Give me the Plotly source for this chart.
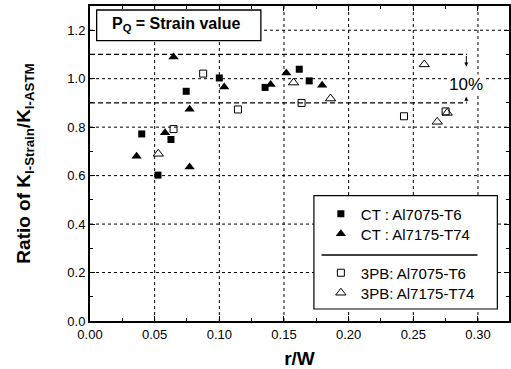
import plotly.graph_objects as go

# r/W and K ratio for each specimen group
ct_7075_x = [0.040, 0.0626, 0.0526, 0.0744, 0.100, 0.1354, 0.1618, 0.1695]
ct_7075_y = [0.772, 0.749, 0.602, 0.948, 1.003, 0.964, 1.039, 0.991]

ct_7175_x = [0.036, 0.058, 0.077, 0.0646, 0.077, 0.1038, 0.1397, 0.1518, 0.1795]
ct_7175_y = [0.680, 0.777, 0.636, 1.090, 0.874, 0.966, 0.976, 1.024, 0.973]

pb_7075_x = [0.0646, 0.0875, 0.1144, 0.1636, 0.2428, 0.2750]
pb_7075_y = [0.792, 1.021, 0.873, 0.900, 0.845, 0.865]

pb_7175_x = [0.0528, 0.1574, 0.1860, 0.2585, 0.2685, 0.2762]
pb_7175_y = [0.690, 0.984, 0.918, 1.059, 0.822, 0.859]

# +/-10 % band around unity
band_upper = 1.1
band_lower = 0.9
band_end = 0.2915

x_ticks = [0.00, 0.05, 0.10, 0.15, 0.20, 0.25, 0.30]
y_ticks = [0.0, 0.2, 0.4, 0.6, 0.8, 1.0, 1.2]
x_max = 0.324
y_max = 1.3

FONT = "Liberation Sans"

fig = go.Figure()

series = [
    ("CT : Al7075-T6", ct_7075_x, ct_7075_y, dict(symbol="square", size=7, color="black"), "legend"),
    ("CT : Al7175-T74", ct_7175_x, ct_7175_y, dict(symbol="triangle-up", size=9, color="black"), "legend2"),
    ("3PB: Al7075-T6", pb_7075_x, pb_7075_y,
     dict(symbol="square-open", size=7, color="black", line=dict(width=1)), "legend3"),
    ("3PB: Al7175-T74", pb_7175_x, pb_7175_y,
     dict(symbol="triangle-up-open", size=9, color="black", line=dict(width=1)), "legend4"),
]
for name, xs, ys, mk, lg in series:
    fig.add_trace(go.Scatter(x=xs, y=ys, mode="markers", name=name, marker=mk, legend=lg))

shapes = []
# dotted grid at the major ticks
for xv in x_ticks[1:]:
    shapes.append(dict(type="line", xref="x", yref="y", x0=xv, x1=xv, y0=0, y1=y_max,
                       line=dict(color="black", width=1, dash="3px,3px"), layer="below"))
for yv in y_ticks[1:]:
    shapes.append(dict(type="line", xref="x", yref="y", x0=0, x1=x_max, y0=yv, y1=yv,
                       line=dict(color="black", width=1, dash="3px,3px"), layer="below"))
for yv in (band_upper, band_lower):
    shapes.append(dict(type="line", xref="x", yref="y", x0=0, x1=band_end, y0=yv, y1=yv,
                       line=dict(color="black", width=1.3, dash="5px,3px"), layer="below"))
# P_Q box
shapes.append(dict(type="rect", xref="paper", yref="paper", x0=0.0159, x1=0.4078,
                   y0=0.8898, y1=0.9873, line=dict(color="black", width=1.3),
                   fillcolor="white", layer="above"))
# legend frame and separator
shapes.append(dict(type="rect", xref="paper", yref="paper", x0=0.5344, x1=0.9722,
                   y0=0.0381, y1=0.3978, line=dict(color="black", width=1.2),
                   fillcolor="white", layer="above"))
shapes.append(dict(type="line", xref="paper", yref="paper", x0=0.5527, x1=0.9247,
                   y0=0.2095, y1=0.2095, line=dict(color="black", width=1.5),
                   layer="above"))

annotations = [
    dict(xref="paper", yref="paper", x=0.0475, y=0.9397, xanchor="left", yanchor="middle",
         showarrow=False, text="<b>P<sub>Q</sub> = Strain value</b>",
         font=dict(family=FONT, size=16, color="black")),
    dict(xref="x", yref="y", x=0.2905, y=0.975, showarrow=False, text="10%",
         font=dict(family=FONT, size=17, color="black"), bgcolor="white", borderpad=0),
    dict(xref="x", yref="y", axref="x", ayref="y", x=0.291, y=1.05, ax=0.291, ay=band_upper,
         text="", showarrow=True, arrowhead=2, arrowsize=0.8, arrowwidth=1, arrowcolor="black"),
    dict(xref="x", yref="y", axref="x", ayref="y", x=0.291, y=0.925, ax=0.291, ay=band_lower,
         text="", showarrow=True, arrowhead=2, arrowsize=0.8, arrowwidth=1, arrowcolor="black"),
]

axis_common = dict(
    showline=True, linecolor="black", linewidth=2, mirror="ticks",
    ticks="inside", ticklen=5, tickwidth=1.3, tickcolor="black",
    showgrid=False, zeroline=False,
    tickfont=dict(family=FONT, size=13, color="black"),
)


def legend_box(ypos):
    return dict(x=0.551, y=ypos, xanchor="left", yanchor="middle",
                bgcolor="rgba(0,0,0,0)", font=dict(family=FONT, size=15, color="black"),
                itemwidth=30)


fig.update_layout(
    width=511, height=369,
    margin=dict(l=90, r=0, t=6, b=48),
    paper_bgcolor="white", plot_bgcolor="white",
    showlegend=True,
    shapes=shapes, annotations=annotations,
    legend=legend_box(0.3397),
    legend2=legend_box(0.2762),
    legend3=legend_box(0.1524),
    legend4=legend_box(0.0889),
    xaxis=dict(axis_common, range=[0, x_max], tickvals=x_ticks,
               ticktext=[f"{v:.2f}" for v in x_ticks],
               minor=dict(ticks="inside", ticklen=3, tickcolor="black", dtick=0.025,
                          tick0=0, showgrid=False),
               title=dict(text="<b>r/W</b>", standoff=13,
                          font=dict(family=FONT, size=19, color="black"))),
    yaxis=dict(axis_common, range=[0, y_max], tickvals=y_ticks,
               ticktext=[f"{v:.1f}" for v in y_ticks],
               minor=dict(ticks="inside", ticklen=3, tickcolor="black", dtick=0.1,
                          tick0=0, showgrid=False),
               title=dict(text="<b>Ratio of K<sub>I-Strain</sub>/K<sub>I-ASTM</sub></b>",
                          standoff=32, font=dict(family=FONT, size=19, color="black"))),
)

fig.write_html("out.html")
